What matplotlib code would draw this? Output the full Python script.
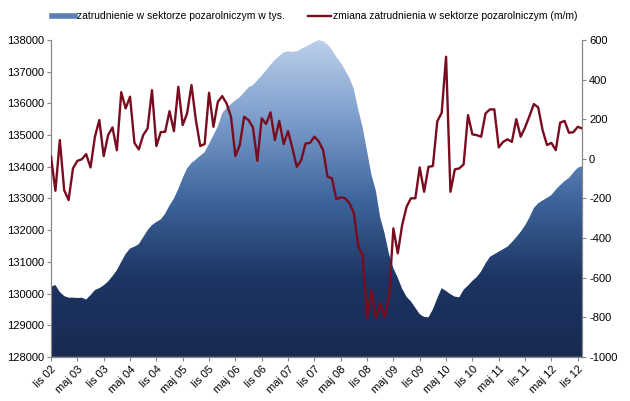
import numpy as np
import matplotlib
matplotlib.use('Agg')
import matplotlib.pyplot as plt
from matplotlib.colors import LinearSegmentedColormap
from matplotlib.lines import Line2D

plt.rcParams['font.family'] = 'Liberation Sans'
plt.rcParams['axes.unicode_minus'] = False

# monthly data, lis 2002 - gru 2012
zatrudnienie = [
    130220, 130270, 130050, 129920, 129870, 129870, 129860, 129870, 129810, 129950,
    130110, 130170, 130260, 130380, 130550, 130740, 131000, 131250, 131420, 131480,
    131560, 131780, 132000, 132160, 132260, 132340, 132520, 132780, 133000, 133300,
    133650, 133950, 134120, 134230, 134350, 134460, 134720, 135000, 135270, 135690,
    135870, 135980, 136100, 136200, 136350, 136510, 136580, 136730, 136880, 137050,
    137220, 137380, 137500, 137610, 137650, 137630, 137650, 137720, 137790, 137860,
    137940, 138000, 137960, 137860, 137700, 137470, 137290, 137050, 136800, 136450,
    135800, 135250, 134500, 133750, 133250, 132400, 131900, 131250, 130800, 130500,
    130150, 129900, 129750, 129550, 129350, 129260, 129250, 129500, 129850, 130170,
    130080, 129980, 129900, 129880, 130120, 130250, 130400, 130520, 130700, 130950,
    131160, 131240, 131320, 131400, 131480, 131620, 131780, 131950, 132150, 132400,
    132700, 132850, 132940, 133020, 133110, 133280, 133420, 133550, 133650, 133820,
    133970, 134020,
]
zmiana = [
    11, -161, 95, -158, -208, -48, -10, -2, 24, -43,
    112, 196, 14, 120, 159, 44, 337, 255, 314, 81,
    48, 120, 154, 347, 65, 135, 137, 241, 140, 364,
    171, 230, 373, 196, 65, 75, 334, 162, 288, 317,
    280, 213, 14, 70, 213, 196, 159, -10, 205, 176,
    235, 95, 192, 75, 140, 53, -40, -6, 78, 81,
    112, 88, 44, -90, -98, -204, -194, -199, -225, -275,
    -444, -485, -805, -662, -805, -730, -797, -696, -351, -477,
    -334, -242, -199, -199, -43, -166, -40, -36, 190, 232,
    516, -166, -53, -48, -28, 221, 124, 120, 112, 230,
    250, 250, 58, 86, 99, 86, 201, 112, 159, 216,
    277, 260, 145, 70, 81, 44, 183, 192, 132, 135,
    162, 154,
]
tick_labels = ['lis 02', 'maj 03', 'lis 03', 'maj 04', 'lis 04', 'maj 05', 'lis 05',
               'maj 06', 'lis 06', 'maj 07', 'lis 07', 'maj 08', 'lis 08', 'maj 09',
               'lis 09', 'maj 10', 'lis 10', 'maj 11', 'lis 11', 'maj 12', 'lis 12']

x = np.arange(len(zatrudnienie))
ymin, ymax = 128000, 138000

fig = plt.figure(figsize=(6.3, 4.01), dpi=100)
ax = fig.add_axes([0.081, 0.110, 0.843, 0.790])

# area with vertical gradient
poly = ax.fill_between(x, ymin, zatrudnienie, facecolor='none', edgecolor='none')
cmap = LinearSegmentedColormap.from_list('grad', ['#182a52', '#1d3563', '#3e669d', '#7c9dcb', '#bccfea'])
grad = np.linspace(0, 1, 256).reshape(-1, 1)
img = ax.imshow(grad, cmap=cmap, origin='lower', aspect='auto',
                extent=[x[0], x[-1], ymin, ymax], zorder=1)
img.set_clip_path(poly.get_paths()[0], transform=ax.transData)

ax.set_xlim(0, len(x) - 1)
ax.set_ylim(ymin, ymax)
ax.set_yticks(np.arange(128000, 138001, 1000))
ax.set_xticks(np.arange(0, len(x), 6))
ax.set_xticklabels(tick_labels, rotation=45, ha='right', rotation_mode='anchor')

ax2 = ax.twinx()
ax2.plot(x, zmiana, color='#7a0c1f', lw=1.7, zorder=3)
ax2.set_ylim(-1000, 600)
ax2.set_yticks(np.arange(-1000, 601, 200))

for a in (ax, ax2):
    a.spines['top'].set_visible(False)
    for s in ('left', 'right', 'bottom'):
        a.spines[s].set_color('#868686')
        a.spines[s].set_linewidth(0.8)
    a.tick_params(axis='both', labelsize=8, colors='#868686', labelcolor='black',
                  length=3, width=0.8, direction='out', pad=2)

handles = [Line2D([], [], color='#5a7fb5', lw=4),
           Line2D([], [], color='#7a0c1f', lw=1.7)]
fig.legend(handles, ['zatrudnienie w sektorze pozarolniczym w tys.',
                     'zmiana zatrudnienia w sektorze pozarolniczym (m/m)'],
           loc='upper center', bbox_to_anchor=(0.5, 0.995), ncol=2, frameon=False,
           fontsize=7.5, handlelength=2.2, handletextpad=0.2, columnspacing=2.2)

fig.savefig('out.png', dpi=100)
